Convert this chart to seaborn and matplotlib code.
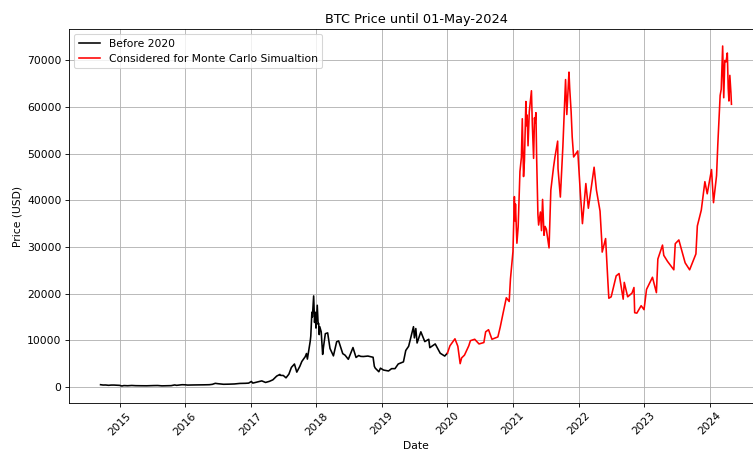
import matplotlib
matplotlib.use("Agg")
import matplotlib.pyplot as plt
import matplotlib.dates as mdates
import seaborn as sns
import pandas as pd

# BTC closing prices (USD), sampled at turning points of the series
dates_before = [
    "2014-09-17", "2014-10-01", "2014-10-15", "2014-11-01", "2014-11-15", "2014-12-01",
    "2014-12-15", "2015-01-01", "2015-01-14", "2015-01-25", "2015-02-15", "2015-03-10",
    "2015-04-01", "2015-05-01", "2015-06-01", "2015-07-10", "2015-08-01", "2015-08-25",
    "2015-09-15", "2015-10-15", "2015-11-04", "2015-11-15", "2015-12-15", "2016-01-01",
    "2016-01-15", "2016-02-15", "2016-03-15", "2016-04-15", "2016-05-15", "2016-06-01",
    "2016-06-17", "2016-07-01", "2016-08-02", "2016-09-01", "2016-10-01", "2016-11-01",
    "2016-12-01", "2016-12-20", "2017-01-04", "2017-01-12", "2017-02-01", "2017-03-03",
    "2017-03-24", "2017-04-15", "2017-05-04", "2017-05-25", "2017-06-12", "2017-06-15",
    "2017-07-01", "2017-07-16", "2017-08-01", "2017-08-15", "2017-09-01", "2017-09-14",
    "2017-10-01", "2017-10-12", "2017-10-31", "2017-11-07", "2017-11-12", "2017-11-28",
    "2017-12-01", "2017-12-07", "2017-12-10", "2017-12-17", "2017-12-22", "2017-12-26",
    "2017-12-30", "2018-01-06", "2018-01-11", "2018-01-14", "2018-01-17", "2018-01-20",
    "2018-01-28", "2018-02-05", "2018-02-10", "2018-02-20", "2018-03-05", "2018-03-18",
    "2018-04-06", "2018-04-24", "2018-05-05", "2018-05-28", "2018-06-10", "2018-06-28",
    "2018-07-24", "2018-08-10", "2018-08-25", "2018-09-05", "2018-09-20", "2018-10-15",
    "2018-11-13", "2018-11-20", "2018-11-25", "2018-12-15", "2018-12-24", "2019-01-10",
    "2019-02-07", "2019-02-24", "2019-03-15", "2019-04-02", "2019-05-01", "2019-05-14",
    "2019-05-30", "2019-06-26", "2019-07-01", "2019-07-09", "2019-07-16", "2019-08-06",
    "2019-08-28", "2019-09-19", "2019-09-25", "2019-10-25", "2019-11-22", "2019-12-17",
    "2019-12-31",
]
prices_before = [
    457, 383, 395, 325, 376, 379,
    347, 314, 178, 270, 234, 291,
    246, 232, 223, 269, 281, 210,
    229, 255, 403, 320, 454, 434,
    374, 400, 416, 430, 456, 537,
    750, 676, 547, 572, 613, 729,
    756, 800, 1154, 800, 989, 1275,
    938, 1180, 1507, 2304, 2660, 2460,
    2434, 1929, 2718, 4170, 4892, 3154,
    4394, 5432, 6468, 7144, 5950, 9823,
    10900, 16000, 15000, 19500, 13800, 16000,
    12600, 17500, 13400, 13600, 11200, 12900,
    11800, 6955, 8600, 11400, 11573, 8223,
    6636, 9660, 9858, 7118, 6785, 5903,
    8424, 6300, 6720, 6529, 6500, 6600,
    6340, 4400, 4009, 3236, 4000, 3600,
    3400, 3900, 3900, 4900, 5350, 7800,
    8700, 12900, 10500, 12500, 9400, 11800,
    9700, 10200, 8400, 9200, 7200, 6600,
    7200,
]

dates_mc = [
    "2020-01-01", "2020-01-15", "2020-02-12", "2020-02-28", "2020-03-12", "2020-03-20",
    "2020-04-05", "2020-04-29", "2020-05-08", "2020-06-01", "2020-06-25", "2020-07-22",
    "2020-08-01", "2020-08-17", "2020-09-05", "2020-10-08", "2020-10-21", "2020-11-05",
    "2020-11-24", "2020-12-10", "2020-12-17", "2020-12-31", "2021-01-08", "2021-01-11",
    "2021-01-14", "2021-01-22", "2021-01-29", "2021-02-08", "2021-02-16", "2021-02-21",
    "2021-02-28", "2021-03-05", "2021-03-13", "2021-03-16", "2021-03-20", "2021-03-25",
    "2021-04-01", "2021-04-13", "2021-04-18", "2021-04-25", "2021-04-30", "2021-05-03",
    "2021-05-08", "2021-05-12", "2021-05-19", "2021-05-23", "2021-06-02", "2021-06-08",
    "2021-06-14", "2021-06-22", "2021-06-28", "2021-07-05", "2021-07-20", "2021-07-30",
    "2021-08-14", "2021-08-22", "2021-09-06", "2021-09-08", "2021-09-21", "2021-10-05",
    "2021-10-20", "2021-10-27", "2021-11-08", "2021-11-12", "2021-11-20", "2021-11-26",
    "2021-12-04", "2021-12-27", "2022-01-10", "2022-01-22", "2022-02-10", "2022-02-24",
    "2022-03-28", "2022-04-10", "2022-04-30", "2022-05-10", "2022-05-12", "2022-05-31",
    "2022-06-13", "2022-06-18", "2022-07-01", "2022-07-29", "2022-08-14", "2022-09-06",
    "2022-09-12", "2022-10-01", "2022-10-25", "2022-11-05", "2022-11-09", "2022-11-21",
    "2022-12-15", "2022-12-31", "2023-01-14", "2023-02-16", "2023-03-10", "2023-03-18",
    "2023-04-13", "2023-04-20", "2023-05-11", "2023-06-15", "2023-06-23", "2023-07-13",
    "2023-08-17", "2023-09-11", "2023-10-16", "2023-10-24", "2023-11-15", "2023-12-05",
    "2023-12-18", "2024-01-11", "2024-01-22", "2024-02-08", "2024-02-15", "2024-02-28",
    "2024-03-05", "2024-03-13", "2024-03-19", "2024-03-25", "2024-04-01", "2024-04-08",
    "2024-04-13", "2024-04-17", "2024-04-22", "2024-04-28", "2024-05-01",
]
prices_mc = [
    7200, 8800, 10300, 8700, 4970, 6200,
    6800, 8800, 9900, 10200, 9200, 9500,
    11800, 12250, 10200, 10700, 12800, 15600,
    19100, 18300, 23100, 29000, 40800, 35600,
    39200, 30800, 34300, 46200, 49200, 57500,
    45100, 48500, 61200, 56000, 58300, 51700,
    59000, 63500, 56200, 49000, 57700, 56600,
    58800, 49000, 37000, 34700, 37500, 33500,
    40200, 32500, 34400, 33800, 29800, 42200,
    47100, 49300, 52700, 46800, 40700, 51500,
    65900, 58400, 67500, 64100, 59000, 53600,
    49300, 50600, 41800, 35000, 43600, 38300,
    47100, 42200, 37700, 31000, 28900, 31800,
    22400, 19000, 19300, 23800, 24300, 18800,
    22400, 19300, 20100, 21300, 15900, 15800,
    17400, 16550, 20900, 23500, 20200, 27400,
    30400, 28200, 26900, 25100, 30700, 31500,
    26600, 25100, 28500, 34500, 37900, 44000,
    41400, 46600, 39500, 45300, 52000, 62500,
    63800, 73100, 62000, 70000, 69700, 71600,
    64000, 61300, 66800, 63100, 60600,
]

before = pd.DataFrame({"Date": pd.to_datetime(dates_before), "Close": prices_before})
mc = pd.DataFrame({"Date": pd.to_datetime(dates_mc), "Close": prices_mc})

DPI = 77
fig = plt.figure(figsize=(753 / DPI, 450 / DPI), dpi=DPI)
ax = fig.add_axes([69 / 753, 47 / 450, 694 / 753, 374 / 450])

sns.lineplot(data=before, x="Date", y="Close", color="black", linewidth=1.5,
             label="Before 2020", ax=ax)
sns.lineplot(data=mc, x="Date", y="Close", color="red", linewidth=1.5,
             label="Considered for Monte Carlo Simualtion", ax=ax)

ax.set_title("BTC Price until 01-May-2024")
ax.set_xlabel("Date")
ax.set_ylabel("Price (USD)")
ax.xaxis.set_major_locator(mdates.YearLocator())
ax.xaxis.set_major_formatter(mdates.DateFormatter("%Y"))
plt.setp(ax.get_xticklabels(), rotation=45)
ax.grid(True)
ax.legend(loc="upper left")

fig.savefig("out.png", dpi=DPI)
